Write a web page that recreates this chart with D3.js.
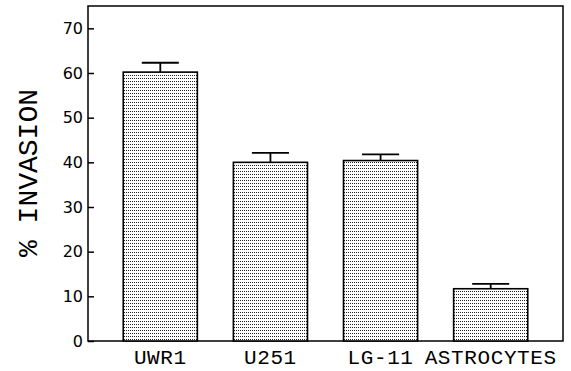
<!DOCTYPE html>
<html>
<head>
<meta charset="utf-8">
<script src="https://cdn.jsdelivr.net/npm/d3@7"></script>
<style>
  body { margin: 0; background: #fff; }
  svg { display: block; }
</style>
</head>
<body>
<div id="chart"></div>
<script>
var categories = ["UWR1", "U251", "LG-11", "ASTROCYTES"];
var invasion = [60.2, 40.0, 40.4, 11.7];
var sem = [2.1, 2.1, 1.4, 1.1];
var yTicks = [0, 10, 20, 30, 40, 50, 60, 70];

var width = 571,
  height = 371,
  svg = d3
    .select("#chart")
    .append("svg")
    .attr("width", width)
    .attr("height", height);

var margin = { top: 6, right: 8, bottom: 30, left: 88 },
  iwidth = width - margin.left - margin.right,
  iheight = height - margin.top - margin.bottom;

var g = svg
  .append("g")
  .attr("transform", `translate(${margin.left}, ${margin.top})`);

// stipple fill
var pat = svg.append("defs")
  .append("pattern")
  .attr("id", "dots")
  .attr("patternUnits", "userSpaceOnUse")
  .attr("width", 2)
  .attr("height", 3);
pat.append("rect").attr("width", 2).attr("height", 3).attr("fill", "#fff");
pat.append("rect").attr("width", 1).attr("height", 1).attr("fill", "#222");

var x = d3.scaleBand()
  .domain(categories)
  .range([0, iwidth])
  .paddingInner(0.327)
  .paddingOuter(0.32);

var y = d3.scaleLinear().domain([0, 75]).range([iheight, 0]);

var data = categories.map(function(c, i) {
  return { name: c, v: invasion[i], e: sem[i] };
});

// frame
g.append("rect")
  .attr("width", iwidth)
  .attr("height", iheight)
  .attr("fill", "none")
  .attr("stroke", "#000")
  .attr("stroke-width", 1.5);

// y axis, ticks inward
var yAxis = g.append("g")
  .call(d3.axisRight(y).tickValues(yTicks).tickSize(6).tickFormat(""));
yAxis.select(".domain").remove();
yAxis.selectAll("line").attr("stroke-width", 1.5);

g.selectAll(".ylab")
  .data(yTicks)
  .enter()
  .append("text")
  .attr("class", "ylab")
  .attr("x", -5)
  .attr("y", function(d) { return y(d); })
  .attr("dy", "0.36em")
  .attr("text-anchor", "end")
  .style("font-family", "DejaVu Sans")
  .style("font-size", "16px")
  .text(function(d) { return d; });

// bars
g.selectAll(".bar")
  .data(data)
  .enter()
  .append("rect")
  .attr("class", "bar")
  .attr("x", function(d) { return x(d.name); })
  .attr("y", function(d) { return y(d.v); })
  .attr("width", x.bandwidth())
  .attr("height", function(d) { return iheight - y(d.v); })
  .attr("fill", "url(#dots)")
  .attr("stroke", "#000")
  .attr("stroke-width", 1.6);

// error bars
var capHalf = x.bandwidth() / 4;
var err = g.selectAll(".err").data(data).enter().append("g").attr("class", "err");
err.append("line")
  .attr("x1", function(d) { return x(d.name) + x.bandwidth() / 2; })
  .attr("x2", function(d) { return x(d.name) + x.bandwidth() / 2; })
  .attr("y1", function(d) { return y(d.v); })
  .attr("y2", function(d) { return y(d.v + d.e); })
  .attr("stroke", "#000")
  .attr("stroke-width", 1.8);
err.append("line")
  .attr("x1", function(d) { return x(d.name) + x.bandwidth() / 2 - capHalf; })
  .attr("x2", function(d) { return x(d.name) + x.bandwidth() / 2 + capHalf; })
  .attr("y1", function(d) { return y(d.v + d.e); })
  .attr("y2", function(d) { return y(d.v + d.e); })
  .attr("stroke", "#000")
  .attr("stroke-width", 1.8);

// category labels
g.selectAll(".xlab")
  .data(categories)
  .enter()
  .append("text")
  .attr("class", "xlab")
  .attr("x", function(d) { return x(d) + x.bandwidth() / 2; })
  .attr("y", iheight + 23)
  .attr("text-anchor", "middle")
  .style("font-family", "Liberation Mono")
  .style("font-size", "21px")
  .style("letter-spacing", "0.6px")
  .text(function(d) { return d; });

// y title
svg.append("text")
  .attr("transform", "translate(37, 173) rotate(-90)")
  .attr("text-anchor", "middle")
  .style("font-family", "Liberation Mono")
  .style("font-size", "28px")
  .text("% INVASION");
</script>
</body>
</html>
